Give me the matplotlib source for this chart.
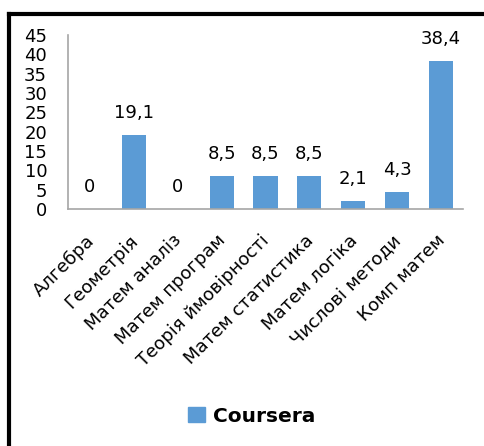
import matplotlib
matplotlib.use('Agg')
import matplotlib.pyplot as plt
from matplotlib.lines import Line2D
from matplotlib.patches import Patch
from matplotlib.transforms import ScaledTranslation

# Курси на Coursera за напрямами
subjects = ['Алгебра', 'Геометрія', 'Матем аналіз', 'Матем програм',
            'Теорія ймовірності', 'Матем статистика', 'Матем логіка',
            'Числові методи', 'Комп матем']
coursera = [0, 19.1, 0, 8.5, 8.5, 8.5, 2.1, 4.3, 38.4]
yticks = list(range(0, 50, 5))

plt.rcParams['font.family'] = ['DejaVu Sans']

fig = plt.figure(figsize=(4.84, 4.46), dpi=100)
ax = fig.add_axes([68 / 484, 1 - 209 / 446, 395 / 484, 174 / 446])

x = range(len(subjects))
bars = ax.bar(x, coursera, width=0.55, color='#5B9BD5')

for xi, v in zip(x, coursera):
    txt = f'{v:g}'.replace('.', ',')
    ax.annotate(txt, (xi, v), xytext=(0, 13), textcoords='offset pixels',
                ha='center', va='bottom', fontsize=13)

ax.set_xlim(-0.5, len(subjects) - 0.5)
ax.set_ylim(0, 45)
ax.set_yticks(yticks)
ax.set_yticklabels([str(t) for t in yticks], fontsize=13)
ax.set_xticks(list(x))
ax.set_xticklabels(subjects, rotation=45, ha='right', rotation_mode='anchor',
                   fontsize=13)
ax.tick_params(axis='y', length=0, pad=15)
ax.tick_params(axis='x', length=0, pad=6)

# зсув підписів осі x трохи вліво й вниз
shift = ScaledTranslation(-5 / 100, -14 / 100, fig.dpi_scale_trans)
for lbl in ax.get_xticklabels():
    lbl.set_transform(lbl.get_transform() + shift)

for side in ['top', 'right']:
    ax.spines[side].set_visible(False)
for side in ['left', 'bottom']:
    ax.spines[side].set_color('#A6A6A6')
    ax.spines[side].set_linewidth(1.2)

fig.legend(handles=[Patch(color='#5B9BD5', label='Coursera')],
           loc='center', bbox_to_anchor=(0.52, 1 - 416 / 446), frameon=False,
           prop={'weight': 'bold', 'size': 14.5}, handlelength=0.8,
           handleheight=0.8, handletextpad=0.4)

# рамка зліва і зверху
bx, by = 9 / 484, 1 - 14 / 446
fig.add_artist(Line2D([bx, bx], [0, by], color='black', lw=3,
                      transform=fig.transFigure))
fig.add_artist(Line2D([bx, 1], [by, by], color='black', lw=3,
                      transform=fig.transFigure))

fig.savefig('out.png', dpi=100)
